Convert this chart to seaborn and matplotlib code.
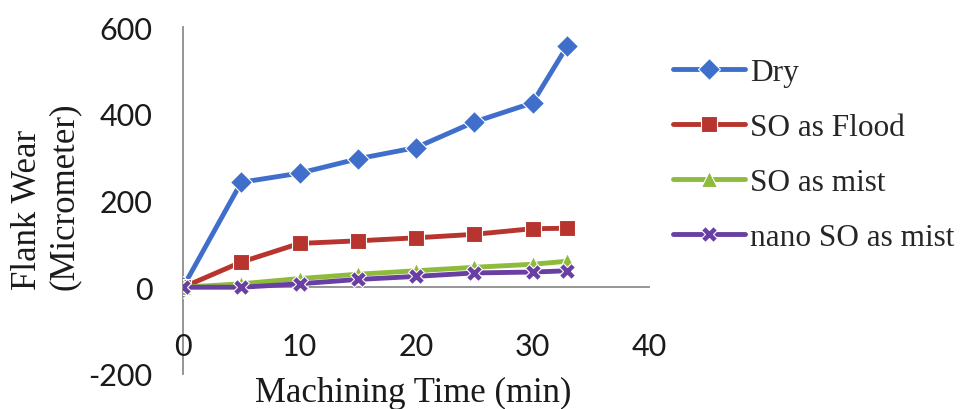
import pandas as pd
import matplotlib
matplotlib.use("Agg")
import matplotlib.pyplot as plt
import seaborn as sns

# machining time (min) and flank wear (micrometer) per cooling condition
time_min = [0, 5, 10, 15, 20, 25, 30, 33]
dry = [0, 242, 263, 296, 322, 381, 425, 557]
so_flood = [0, 58, 101, 107, 114, 122, 135, 136]
so_mist = [0, 8, 20, 30, 38, 46, 53, 60]
nano_so_mist = [0, 0, 8, 18, 25, 33, 35, 38]

labels = ["Dry", "SO as Flood", "SO as mist", "nano SO as mist"]
colors = ["#3f6fca", "#b8342e", "#8fbb3c", "#6a3fa3"]
markers = ["D", "s", "^", "X"]

df = pd.DataFrame({
    "time": time_min * 4,
    "wear": dry + so_flood + so_mist + nano_so_mist,
    "cond": [lab for lab in labels for _ in time_min],
})

sns.set_style("white")
plt.rcParams["axes.unicode_minus"] = False
fig = plt.figure(figsize=(9.66, 4.10), dpi=100)
ax = fig.add_axes([183 / 966, 1 - 375 / 410, (649 - 183) / 966, (375 - 28) / 410])

sns.lineplot(data=df, x="time", y="wear", hue="cond", style="cond",
             hue_order=labels, style_order=labels,
             palette=dict(zip(labels, colors)),
             markers=dict(zip(labels, markers)), dashes=False,
             linewidth=3.5, markersize=11, markeredgewidth=0.8, ax=ax)

ax.set_xlim(0, 40)
ax.set_ylim(-200, 600)
ax.set_xticks([0, 10, 20, 30, 40])
ax.set_yticks([-200, 0, 200, 400, 600])

for s in ["top", "right"]:
    ax.spines[s].set_visible(False)
ax.spines["bottom"].set_position(("data", 0))
for s in ["left", "bottom"]:
    ax.spines[s].set_color("#8c8c8c")
    ax.spines[s].set_linewidth(1.3)
    ax.spines[s].set_zorder(0)

ax.tick_params(axis="x", direction="out", length=5, width=1.2, color="#8c8c8c",
               pad=27, labelsize=22)
ax.tick_params(axis="y", direction="out", length=6, width=1.2, color="#8c8c8c",
               pad=16, labelsize=22)
for t in ax.get_xticklabels() + ax.get_yticklabels():
    t.set_fontfamily("Lato")
    t.set_color("#1a1a1a")

ax.set_xlabel("")
ax.set_ylabel("")
fig.text(413 / 966, 1 - 393 / 410, "Machining Time (min)", ha="center", va="center",
         family="Liberation Serif", fontsize=25, color="#1a1a1a")
# two-line y title, both lines starting at the same height
fig.text(28 / 966, 1 - 290 / 410, "Flank Wear", ha="left", va="center",
         rotation=90, rotation_mode="anchor", family="Liberation Serif",
         fontsize=25, color="#1a1a1a")
fig.text(64 / 966, 1 - 290 / 410, "(Micrometer)", ha="left", va="center",
         rotation=90, rotation_mode="anchor", family="Liberation Serif",
         fontsize=25, color="#1a1a1a")

handles, _ = ax.get_legend_handles_labels()
ax.legend_.remove()
fig.legend(handles, labels, loc="upper left", bbox_to_anchor=(0.697, 0.857),
           frameon=False, handlelength=2.3, handletextpad=0.16, labelspacing=0.84,
           borderpad=0, borderaxespad=0,
           prop={"family": "Liberation Serif", "size": 22.5})

fig.savefig("out.png", dpi=100)
